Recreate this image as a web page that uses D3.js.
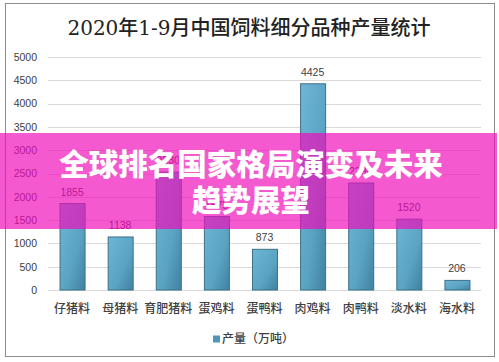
<!DOCTYPE html>
<html>
<head>
<meta charset="utf-8">
<script src="https://cdn.jsdelivr.net/npm/d3@7"></script>
<style>
  body { margin: 0; background: #fff; }
  svg { display: block; }
</style>
</head>
<body>
<svg id="chart" width="499" height="362"></svg>
<script>
// data
const categories = ["仔猪料", "母猪料", "育肥猪料", "蛋鸡料", "蛋鸭料", "肉鸡料", "肉鸭料", "淡水料", "海水料"];
const output = [1855, 1138, 2530, 1575, 873, 4425, 2296, 1520, 206];
const yTicks = [0, 500, 1000, 1500, 2000, 2500, 3000, 3500, 4000, 4500, 5000];
const title = "2020年1-9月中国饲料细分品种产量统计";
const seriesName = "产量（万吨）";
const bannerLines = ["全球排名国家格局演变及未来", "趋势展望"];

const width = 499, height = 362;
const plot = { left: 48, right: 481, top: 57, bottom: 290 };

const svg = d3.select("#chart");

const defs = svg.append("defs");
const grad = defs.append("linearGradient")
  .attr("id", "barGrad")
  .attr("x1", "0").attr("y1", "0")
  .attr("x2", "1").attr("y2", "1");
grad.append("stop").attr("offset", "0%").attr("stop-color", "#6fb6d6");
grad.append("stop").attr("offset", "60%").attr("stop-color", "#5aa3c3");
grad.append("stop").attr("offset", "100%").attr("stop-color", "#3f829f");

// outer frame
svg.append("rect")
  .attr("x", 5.5).attr("y", 3.5)
  .attr("width", 489).attr("height", 353)
  .attr("fill", "#fff")
  .attr("stroke", "#8c8c8c");

svg.append("text")
  .attr("x", 249).attr("y", 35)
  .attr("text-anchor", "middle")
  .attr("font-family", "'DejaVu Serif', 'Noto Sans CJK SC', serif")
  .attr("font-size", 20)
  .attr("font-weight", 500)
  .attr("fill", "#222")
  .text(title);

const x = d3.scaleBand()
  .domain(categories)
  .range([plot.left, plot.right])
  .paddingInner(0.48)
  .paddingOuter(0.24);

const y = d3.scaleLinear()
  .domain([0, 5000])
  .range([plot.bottom, plot.top]);

// grid
svg.append("g")
  .selectAll("line")
  .data(yTicks)
  .enter().append("line")
  .attr("x1", plot.left).attr("x2", plot.right)
  .attr("y1", d => Math.round(y(d)) + 0.5)
  .attr("y2", d => Math.round(y(d)) + 0.5)
  .attr("stroke", "#d9d9d9");

// y axis
const yAxis = svg.append("g")
  .attr("transform", "translate(" + (plot.left - 4) + ",0)")
  .call(d3.axisLeft(y).tickValues(yTicks).tickFormat(d3.format("d")).tickSize(0).tickPadding(7));
yAxis.select(".domain").remove();
yAxis.selectAll("text")
  .attr("font-family", "'Liberation Sans', Arial, sans-serif")
  .attr("font-size", 10.5)
  .attr("fill", "#404040");

// x axis
const xAxis = svg.append("g")
  .attr("transform", "translate(0," + plot.bottom + ")")
  .call(d3.axisBottom(x).tickSize(0).tickPadding(14));
xAxis.select(".domain").remove();
xAxis.selectAll("text")
  .attr("font-family", "'Noto Sans CJK SC', sans-serif")
  .attr("font-size", 12)
  .attr("font-weight", 500)
  .attr("fill", "#404040");

// bars
svg.append("g")
  .selectAll("rect")
  .data(output)
  .enter().append("rect")
  .attr("x", (d, i) => x(categories[i]) + 0.5)
  .attr("y", d => y(d))
  .attr("width", x.bandwidth())
  .attr("height", d => y(0) - y(d))
  .attr("fill", "url(#barGrad)")
  .attr("stroke", "#3b7189")
  .attr("stroke-width", 1);

// value labels
svg.append("g")
  .selectAll("text")
  .data(output)
  .enter().append("text")
  .attr("x", (d, i) => x(categories[i]) + x.bandwidth() / 2)
  .attr("y", d => y(d) - 8)
  .attr("text-anchor", "middle")
  .attr("font-family", "'Liberation Sans', Arial, sans-serif")
  .attr("font-size", 10.5)
  .attr("fill", "#404040")
  .text(d => d);

// legend
const legend = svg.append("g").attr("transform", "translate(213,339)");
legend.append("rect")
  .attr("x", 0).attr("y", -3.5)
  .attr("width", 7).attr("height", 7)
  .attr("fill", "#4f97b8");
legend.append("text")
  .attr("x", 9).attr("y", 0)
  .attr("dy", "0.35em")
  .attr("font-family", "'Noto Sans CJK SC', sans-serif")
  .attr("font-size", 12)
  .attr("font-weight", 500)
  .attr("fill", "#404040")
  .text(seriesName);

// pink banner overlay
svg.append("rect")
  .attr("x", 0).attr("y", 133)
  .attr("width", 497).attr("height", 96)
  .attr("fill", "rgb(240,10,185)")
  .attr("fill-opacity", 0.68);

svg.append("g")
  .selectAll("text")
  .data(bannerLines)
  .enter().append("text")
  .attr("x", 251)
  .attr("y", (d, i) => 164 + i * 36)
  .attr("dy", "0.36em")
  .attr("text-anchor", "middle")
  .attr("font-family", "'Noto Sans CJK SC', sans-serif")
  .attr("font-weight", 900)
  .attr("font-size", 29.5)
  .attr("fill", "#fff")
  .text(d => d);
</script>
</body>
</html>
